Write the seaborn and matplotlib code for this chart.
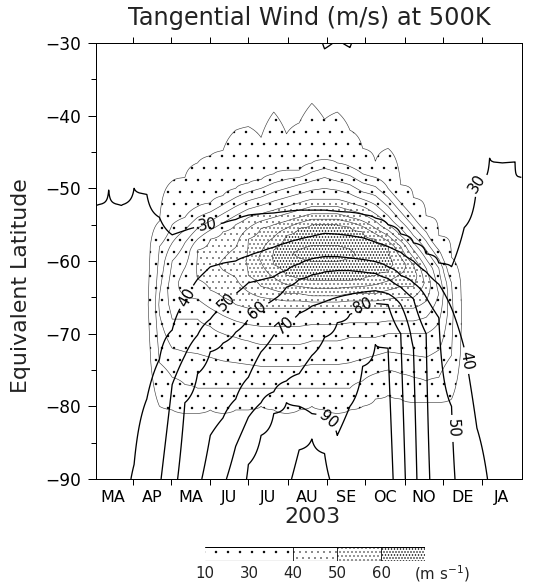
import numpy as np
import matplotlib
matplotlib.use("Agg")
import matplotlib.pyplot as plt
import seaborn as sns

nan = np.nan

# ---------------------------------------------------------------------------
# Time axis: days since 1 Jan 2003
day = [61, 71, 81, 91, 101, 111, 121, 131, 141, 151, 161, 171, 181, 191, 201,
       211, 221, 231, 241, 251, 261, 271, 281, 291, 301, 311, 321, 331, 341,
       351, 361, 371, 381, 391, 396]

month_starts = [90, 120, 151, 181, 212, 243, 273, 304, 334, 365]
month_mids = [74.5, 105, 135.5, 166, 196.5, 227.5, 258, 288.5, 319, 349.5, 380.5]
month_labels = ["MA", "AP", "MA", "JU", "JU", "AU", "SE", "OC", "NO", "DE", "JA"]

# ---------------------------------------------------------------------------
# Tangential wind (m/s): value at the pole, at 30S, and the equivalent latitude
# where each isotach is crossed on the equatorward flank of the jet
wind_pole = [34, 35, 37, 41, 46, 49, 57, 64, 68.5, 73, 78.5, 84, 91, 94, 96, 98,
             103, 103, 102, 97, 96, 95, 95, 94, 84, 73, 62, 55, 51.5, 46, 42.5,
             39.5, 36, 34, 33]
wind_38s = 12
wind_30s = [20] * 18 + [32, 29, 31.5] + [20] * 14

lat_w30 = [-52.3, -50.2, -52.3, -50.0, -50.8, -54.0, -56.4, -55.8, -55.3, -55.0,
           -54.8, -54.3, -53.7, -53.5, -53.4, -53.2, -53.0, -53.0, -53.0, -53.2,
           -53.3, -53.6, -54.1, -55.0, -56.3, -57.5, -59.0, -60.3, -60.8, -55.4,
           -49.3, -45.8, -46.5, -46.3, -48.5]
lat_w40 = [nan, nan, nan, -88, -79, -73.5, -69.5, -65.5, -62.5, -60.8, -60.3, -60,
           -59.3, -58.7, -58.1, -57.5, -57, -56.6, -56.2, -56.3, -56.5, -56.8,
           -57.4, -58, -58.8, -60, -61.5, -63.2, -66.5, -72, -83, nan, nan, nan, nan]
lat_w50 = [nan] * 6 + [-77, -73, -70.2, -68, -66.3, -64.5, -63, -62.6, -62.2, -61.3,
                       -60.4, -59.7, -59.4, -59.4, -59.6, -59.8, -60.1, -60.8, -62,
                       -63, -65, -67.8, -80] + [nan] * 6
lat_w60 = [nan] * 7 + [-79.5, -75.5, -72.5, -71.3, -69.8, -68, -66.3, -65.3, -63.6,
                       -62.5, -61.9, -61.5, -61.3, -61.3, -61.5, -61.7, -62.4, -63.6,
                       -65.2, -70] + [nan] * 8
lat_w70 = [nan] * 9 + [-84, -81.6, -79, -76, -72.5, -70.2, -68.5, -67.2, -66.2, -65.6,
                       -65, -64.6, -64.3, -64.1, -64.5, -66, -72] + [nan] * 9
lat_w80 = [nan] * 11 + [-85.5, -81.5, -79.5, -78, -76.5, -75.5, -73, -70.5, -68.5,
                        -67.3, -66.2, -65.8, -66, -70] + [nan] * 10
lat_w90 = [nan] * 12 + [-88, -84, -81, -79.5, -80, -81, -81.5, -84, -80, -74.5,
                        -71.5, -72] + [nan] * 11
lat_w100 = [nan] * 16 + [-86, -84.5, -86.5] + [nan] * 16

wind_levels = [30, 40, 50, 60, 70, 80, 90, 100]
wind_cross = [lat_w30, lat_w40, lat_w50, lat_w60, lat_w70, lat_w80, lat_w90, lat_w100]

# ---------------------------------------------------------------------------
# Stippled wind-speed field (m/s): core value and latitude, plus the latitudes
# of each isotach on the poleward (s) and equatorward (n) side of the core
spd_peak = [nan] * 4 + [8, 26, 33, 38, 40.5, 43, 46, 48, 50.5, 56, 60.5, 64, 66, 67,
                        67, 67, 66, 64, 62.5, 61.5, 58.5, 53, 44, 35, 22, 7] + [nan] * 5
spd_peak_lat = [nan] * 4 + [-66, -66, -64, -63, -61, -60.5, -60.5, -60, -60, -59.5,
                            -59.5, -59, -59, -59, -59, -59, -59, -59.5, -59.5, -60,
                            -60.5, -62, -63, -64.5, -67, -68] + [nan] * 5

spd_n10 = [nan] * 5 + [-54.5, -49, -48.5, -46.5, -45.5, -44.8, -42, -41.5, -43, -39.5,
                       -42.5, -41, -38.3, -40.5, -39.5, -42, -44.5, -46.3, -44.5,
                       -49.5, -51.3, -53.8, -56.5, -59.5] + [nan] * 6
spd_n20 = [nan] * 5 + [-58, -55, -54, -52.5, -52, -51, -50, -49.3, -48.8, -48, -47.5,
                       -47.5, -46.5, -46, -46.5, -47, -48, -48.5, -50, -52, -54, -56,
                       -58.5, -63] + [nan] * 6
spd_n30 = [nan] * 6 + [-60, -57.5, -55.5, -54.5, -53.5, -52.5, -51.7, -51.2, -50.5,
                       -50, -49.5, -49, -48.5, -49, -49.5, -50.5, -51, -52.5, -54.5,
                       -56.5, -58.5, -61] + [nan] * 7
spd_n40 = [nan] * 8 + [-58.5, -57, -56, -55, -54, -53.5, -53, -52.5, -52, -51.5, -51.5,
                       -51.5, -52, -52.5, -53.5, -55, -56.5, -58.5, -61] + [nan] * 8
spd_n50 = [nan] * 12 + [-57, -55.5, -55, -54.5, -54, -53.5, -53.5, -53.5, -54, -54.5,
                        -55.5, -56.5, -58, -60.5] + [nan] * 9
spd_n60 = [nan] * 14 + [-58.5, -56.5, -55.5, -55, -55, -55, -55.3, -56, -57,
                        -58] + [nan] * 11
spd_s60 = [nan] * 14 + [-60.5, -62, -62.5, -62.7, -62.7, -62.7, -62.7, -62.5, -62,
                        -61.5] + [nan] * 11
spd_s50 = [nan] * 12 + [-62, -63.5, -64, -64.5, -64.5, -64.8, -64.8, -64.8, -64.5,
                        -64.5, -64.5, -64, -63.5, -63.5] + [nan] * 9
spd_s40 = [nan] * 8 + [-62.5, -64, -65, -66, -66.5, -66.5, -66.5, -66.5, -66.5, -66.5,
                       -66.5, -66.5, -66.5, -66.5, -66.5, -66.5, -66.5, -66.5,
                       -65.5] + [nan] * 8
spd_s30 = [nan] * 6 + [-68, -68, -68, -69, -70, -70.5, -71, -71.5, -71.5, -71.5, -71.5,
                       -71, -71, -71, -70.5, -70.5, -70.5, -70, -70, -70, -70,
                       -68.5] + [nan] * 7
spd_s20 = [nan] * 5 + [-74, -76, -77, -77.5, -77.5, -77.5, -77.5, -77.5, -77.5, -77.5,
                       -77.5, -77.5, -77.5, -77.5, -77.5, -77.5, -76.5, -75.5, -75,
                       -75.5, -76, -76.5, -76, -73] + [nan] * 6
spd_s10 = [nan] * 5 + [-80, -80.5, -81, -81, -80.5, -81, -80.5, -80.5, -80, -80.5, -81,
                       -80.5, -80, -80.5, -81, -80.5, -80, -79, -78.5, -79, -79.5,
                       -79.5, -79.5, -79] + [nan] * 6

spd_levels = [10, 20, 30, 40, 50, 60]
spd_north = [spd_n10, spd_n20, spd_n30, spd_n40, spd_n50, spd_n60]
spd_south = [spd_s10, spd_s20, spd_s30, spd_s40, spd_s50, spd_s60]

# stipple classes: lower bound, hatch pattern, hatch stroke width
stipple_bounds = [10, 40, 50, 60, 200]
stipple_hatches = [".", "..", "...", "...."]
stipple_widths = [0.05, 0.25, 0.5, 0.9]

# legend of the stipple classes
legend_ticks = ["10", "30", "40", "50", "60"]
legend_class = [0, 0, 1, 2, 3]

# contour labels (day, latitude)
label_pts = [(148.4, -54.7), (361, -49.3), (132.7, -65), (353, -73.7),
             (164, -65.7), (347.6, -83), (187.8, -66.8), (207.5, -68.6),
             (271.2, -66.1), (247.6, -81)]

# ---------------------------------------------------------------------------
lat = np.linspace(-90, -30, 481)


def profile(knots):
    pts = sorted((la, v) for la, v in knots if np.isfinite(la) and np.isfinite(v))
    la, v = zip(*pts)
    return np.interp(lat, la, v)


W = np.column_stack([
    profile([(-90, wind_pole[i])]
            + [(c[i], lv) for lv, c in zip(wind_levels, wind_cross)]
            + [(-38, wind_38s), (-30, wind_30s[i])])
    for i in range(len(day))])

cols = []
for i in range(len(day)):
    if not np.isfinite(spd_peak[i]):
        cols.append(np.zeros_like(lat))
        continue
    knots = [(-90, 0), (-30, 0), (spd_peak_lat[i], spd_peak[i])]
    for lv, n, s in zip(spd_levels, spd_north, spd_south):
        knots += [(n[i], lv), (s[i], lv)]
    cols.append(profile(knots))
S = np.column_stack(cols)

# ---------------------------------------------------------------------------
sns.set_theme(style="ticks")
plt.rcParams.update({
    "font.family": ["DejaVu Sans"],
    "mathtext.fontset": "dejavusans",
    "hatch.color": "black",
    "axes.linewidth": 1.0,
    "axes.edgecolor": "black",
    "xtick.color": "black",
    "ytick.color": "black",
    "text.color": "#222222",
})

W_PX, H_PX = 533, 583
fig = plt.figure(figsize=(W_PX / 72, H_PX / 72), dpi=72)
ax = fig.add_axes([96 / W_PX, 1 - 479 / H_PX, 426 / W_PX, 436 / H_PX])

for k, (h, w) in enumerate(zip(stipple_hatches, stipple_widths)):
    with plt.rc_context({"hatch.linewidth": w}):
        cf = ax.contourf(day, lat, S, levels=stipple_bounds[k:k + 2],
                         colors="none", hatches=[h])
        cf.set_edgecolor("black")
        cf.set_linewidth(0)

ax.contour(day, lat, S, levels=[10, 20, 25, 30, 35, 40, 45, 50, 55, 60, 65],
           colors="#3a3a3a", linewidths=0.6)
cs = ax.contour(day, lat, W, levels=wind_levels, colors="black", linewidths=1.3)
ax.clabel(cs, levels=wind_levels[:-1], fmt="%d", manual=label_pts, inline=True,
          fontsize=15, inline_spacing=4)

ax.set_xlim(61, 396.5)
ax.set_ylim(-90, -30)
ax.set_xticks(month_starts)
ax.set_xticklabels([])
ax.set_xticks(month_mids, minor=True)
ax.set_xticklabels(month_labels, minor=True, fontsize=16)
ax.tick_params(axis="x", which="major", top=True, bottom=True, direction="out",
               length=6, width=1)
ax.tick_params(axis="x", which="minor", length=0, pad=11, labelsize=16)
ax.set_yticks(np.arange(-90, -29, 10))
ax.set_yticks(np.arange(-85, -30, 10), minor=True)
ax.tick_params(axis="y", which="major", direction="out", length=8, width=1,
               pad=7, labelsize=17)
ax.tick_params(axis="y", which="minor", direction="out", length=5, width=1)

fig.text(309 / W_PX, 1 - 25 / H_PX, "Tangential Wind (m/s) at 500K",
         ha="center", va="baseline", fontsize=24)
fig.text(21 / W_PX, 1 - 286 / H_PX, "Equivalent Latitude", rotation=90,
         ha="center", va="center", fontsize=22)
fig.text(312 / W_PX, 1 - 517 / H_PX, "2003", ha="center", va="center", fontsize=22)

# stipple legend
cax = fig.add_axes([205 / W_PX, 1 - 561 / H_PX, 220 / W_PX, 14 / H_PX])
for i, k in enumerate(legend_class):
    with plt.rc_context({"hatch.linewidth": stipple_widths[k]}):
        cax.bar(i, 1, width=1, align="edge", color="white", edgecolor="black",
                linewidth=0, hatch=stipple_hatches[k])
cax.set_xlim(0, len(legend_class))
cax.set_ylim(0, 1)
cax.axis("off")
cax.axhline(1, color="black", lw=1)
cax.axhline(0, color="#777777", lw=1.2)
for x in (2, 3, 4):
    cax.axvline(x, color="black", lw=0.8)
for i, t in enumerate(legend_ticks):
    cax.text(i, -0.9, t, ha="center", va="center", fontsize=15)
cax.text(4.75, -0.9, "(m s$^{-1}$)", ha="left", va="center", fontsize=15)

fig.savefig("out.png", dpi=72)
